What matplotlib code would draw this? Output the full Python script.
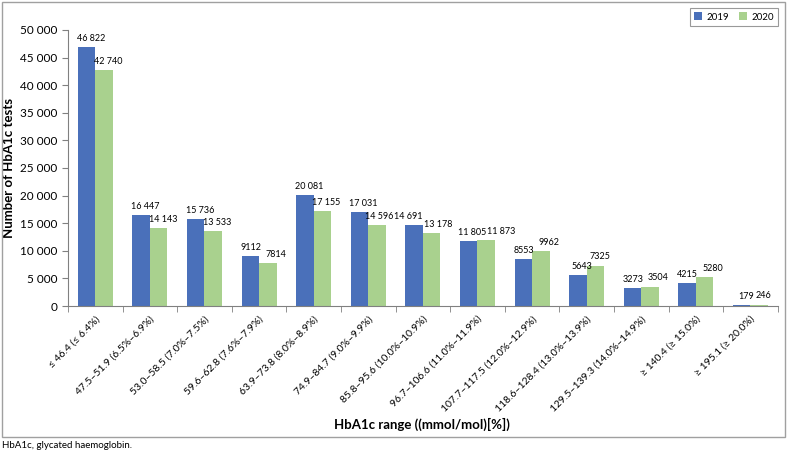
import matplotlib.pyplot as plt
import numpy as np
from matplotlib.patches import Rectangle

categories = [
    "≤ 46.4 (≤ 6.4%)", "47.5–51.9 (6.5%–6.9%)", "53.0–58.5 (7.0%–7.5%)",
    "59.6–62.8 (7.6%–7.9%)", "63.9–73.8 (8.0%–8.9%)", "74.9–84.7 (9.0%–9.9%)",
    "85.8–95.6 (10.0%–10.9%)", "96.7–106.6 (11.0%–11.9%)",
    "107.7–117.5 (12.0%–12.9%)", "118.6–128.4 (13.0%–13.9%)",
    "129.5–139.3 (14.0%–14.9%)", "≥ 140.4 (≥ 15.0%)", "≥ 195.1 (≥ 20.0%)",
]
tests_2019 = [46822, 16447, 15736, 9112, 20081, 17031, 14691, 11805, 8553, 5643, 3273, 4215, 179]
tests_2020 = [42740, 14143, 13533, 7814, 17155, 14596, 13178, 11873, 9962, 7325, 3504, 5280, 246]
yticks = [0, 5000, 10000, 15000, 20000, 25000, 30000, 35000, 40000, 45000, 50000]


def fmt(v):
    s = f"{v:,}"
    # Excel style: space separator only for 5+ digit numbers
    return s.replace(",", " ") if v >= 10000 else s.replace(",", "")


plt.rcParams['font.family'] = ['Lato', 'DejaVu Sans']
fig = plt.figure(figsize=(7.88, 4.53), dpi=100)
ax = fig.add_axes([0.0863, 0.3245, 0.9007, 0.6095])

x = np.arange(len(categories))
w = 0.32
b1 = ax.bar(x - w / 2, tests_2019, w, color='#4a70ba', label='2019')
b2 = ax.bar(x + w / 2, tests_2020, w, color='#a9d18e', label='2020')

labels = []
for bb, gb, v1, v2 in zip(b1, b2, tests_2019, tests_2020):
    for b, v in ((bb, v1), (gb, v2)):
        t = ax.annotate(fmt(v), (b.get_x() + b.get_width() / 2, v), xytext=(3, 3),
                        textcoords='offset points', ha='center', va='bottom', fontsize=6.5)
        labels.append(t)

# push apart neighbouring labels that collide (left to right)
fig.canvas.draw()
r = fig.canvas.get_renderer()
for _ in range(3):
    for t1, t2 in zip(labels[:-1], labels[1:]):
        e1, e2 = t1.get_window_extent(r), t2.get_window_extent(r)
        if e1.overlaps(e2):
            gap = (e1.x1 - e2.x0) / 2 + 1.5
            p1, p2 = t1.xyann, t2.xyann
            t1.xyann = (p1[0] - gap * 0.72, p1[1])
            t2.xyann = (p2[0] + gap * 0.72, p2[1])

ax.set_xlim(-0.5, len(categories) - 0.5)
ax.set_ylim(0, 50000)
ax.set_yticks(yticks)
ax.set_yticklabels([f"{t:,}".replace(",", " ") for t in yticks], fontsize=8.5)
ax.set_xticks(x)
ax.set_xticklabels(categories, rotation=45, ha='right', rotation_mode='anchor', fontsize=7.5)
ax.tick_params(axis='x', length=0, pad=6)
ax.set_xticks(np.arange(-0.5, len(categories)), minor=True)
ax.tick_params(axis='x', which='minor', length=4, direction='out', color='#808080')
ax.tick_params(axis='y', length=4, direction='out', color='#808080')
for s in ('top', 'right'):
    ax.spines[s].set_visible(False)
for s in ('left', 'bottom'):
    ax.spines[s].set_color('#808080')

ax.set_ylabel('Number of HbA1c tests', fontsize=9.5, fontweight='bold')
ax.yaxis.set_label_coords(-0.074, 0.5)
fig.text(0.535, 0.062, 'HbA1c range ((mmol/mol)[%])', fontsize=9.5, fontweight='bold',
         ha='center', va='center')

leg = fig.legend(loc='upper right', bbox_to_anchor=(0.994, 0.993), ncol=2, fontsize=7,
                 frameon=True, fancybox=False, edgecolor='#808080', handlelength=0.8,
                 handleheight=0.8, handletextpad=0.5, columnspacing=1.0, borderpad=0.45)
leg.get_frame().set_linewidth(0.8)

fig.patches.append(Rectangle((0.0025, 0.035), 0.994, 0.961, transform=fig.transFigure,
                             fill=False, edgecolor='#a0a0a0', linewidth=1))
fig.text(0.003, 0.011, 'HbA1c, glycated haemoglobin.', fontsize=7)

fig.savefig('out.png', dpi=100)
